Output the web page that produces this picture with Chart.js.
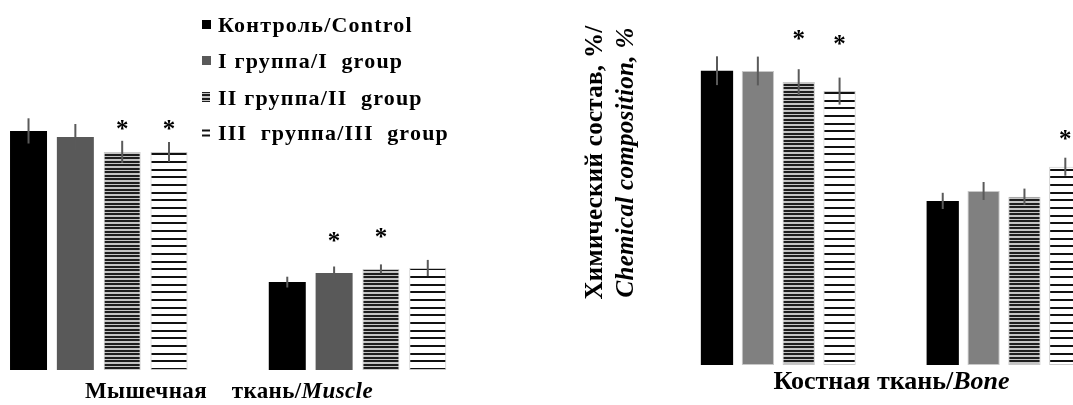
<!DOCTYPE html>
<html><head><meta charset="utf-8">
<script src="https://cdn.jsdelivr.net/npm/chart.js@4/dist/chart.umd.min.js"></script>
<style>
html,body{margin:0;padding:0;background:#fff;overflow:hidden;width:1073px;height:405px;}
#wrap{position:relative;width:1073px;height:405px;overflow:hidden;background:#fff;}
#c1{position:absolute;left:-40px;top:0;}
#c2{position:absolute;left:580px;top:0;}
</style></head><body>
<div id="wrap">
<canvas id="c1" width="540" height="405"></canvas>
<canvas id="c2" width="560" height="405"></canvas>
</div>
<script>
// ---- data ----
const seriesLabels = ['Контроль/Control', 'I группа/I  group', 'II группа/II  group', 'III  группа/III  group'];
const categories = ['1', '2'];

const muscleControl = [79.7, 29.3];
const muscleI       = [77.7, 32.3];
const muscleII      = [72.7, 33.7];
const muscleIII     = [72.7, 34.0];
const muscleErrControl = [4.2, 1.8];
const muscleErrI       = [4.3, 2.2];
const muscleErrII      = [3.7, 1.5];
const muscleErrIII     = [3.3, 2.7];
const muscleStarI   = [null, 44.3];
const muscleStarII  = [81.7, 45.7];
const muscleStarIII = [81.7, null];

const boneControl = [98.1, 54.7];
const boneI       = [98.0, 58.0];
const boneII      = [94.3, 56.1];
const boneIII     = [91.3, 66.1];
const boneErrControl = [4.8, 2.7];
const boneErrI       = [4.8, 3.0];
const boneErrII      = [4.3, 2.7];
const boneErrIII     = [4.5, 3.0];
const boneStarII  = [110, null];
const boneStarIII = [108.3, 76.7];

const muscleTitle = [['Мышечная    ткань/', 'bold'], ['Muscle', 'italic bold']];
const boneTitle = [['Костная ткань/', 'bold'], ['Bone', 'italic bold']];
const yTitle = [['Химический состав, %/', 'bold'], ['Chemical composition, %', 'italic bold']];

// ---- patterns ----
function makePattern(h, darkRows, dark, light) {
  const t = document.createElement('canvas');
  t.width = 4; t.height = h;
  const g = t.getContext('2d');
  g.fillStyle = light; g.fillRect(0, 0, 4, h);
  g.fillStyle = dark;
  darkRows.forEach(r => g.fillRect(0, r, 4, 1));
  return document.createElement('canvas').getContext('2d').createPattern(t, 'repeat');
}
const densePattern = makePattern(7, [0, 1, 3, 4], '#1e1e1e', '#c4c4c4');
const sparsePattern = makePattern(23, [0, 1, 8, 9, 15, 16], '#111111', '#ffffff');

const SERIF = '"Liberation Serif", "Times New Roman", serif';

function drawSegs(ctx, segs, size, cx, base, spacing) {
  ctx.letterSpacing = (spacing || 0) + 'px';
  let total = 0;
  const m = segs.map(([t, st]) => { ctx.font = st + ' ' + size + 'px ' + SERIF; const w = ctx.measureText(t).width; total += w; return w; });
  let x = cx - total / 2;
  ctx.textAlign = 'left';
  segs.forEach(([t, st], i) => { ctx.font = st + ' ' + size + 'px ' + SERIF; ctx.fillText(t, x, base); x += m[i]; });
  ctx.letterSpacing = '0px';
}

const errPlugin = {
  id: 'errs',
  afterDatasetsDraw(chart) {
    const ctx = chart.ctx, ys = chart.scales.y;
    ctx.save();
    chart.data.datasets.forEach((ds, i) => {
      const meta = chart.getDatasetMeta(i);
      meta.data.forEach((bar, j) => {
        const v = ds.data[j], e = ds.errors[j];
        if (v == null || e == null) return;
        ctx.strokeStyle = '#5a5a5a'; ctx.lineWidth = 2;
        ctx.beginPath();
        ctx.moveTo(bar.x, ys.getPixelForValue(v + e));
        ctx.lineTo(bar.x, ys.getPixelForValue(v - e));
        ctx.stroke();
        const s = ds.stars ? ds.stars[j] : null;
        if (s != null) {
          ctx.fillStyle = '#000';
          ctx.font = 'bold 25px ' + SERIF;
          ctx.textAlign = 'center';
          ctx.textBaseline = 'alphabetic';
          const mm = ctx.measureText('*');
          const off = (mm.actualBoundingBoxAscent - mm.actualBoundingBoxDescent) / 2;
          ctx.fillText('*', bar.x, ys.getPixelForValue(s) + off);
        }
      });
    });
    ctx.restore();
  }
};

const muscleDecor = {
  id: 'muscleDecor',
  afterDraw(chart) {
    const ctx = chart.ctx;
    ctx.save();
    ctx.fillStyle = '#000'; ctx.textBaseline = 'alphabetic';
    drawSegs(ctx, muscleTitle, 23, 269, 398, 0.4);
    // legend
    const ox = 40;
    const rows = [24.5, 60.5, 97, 132.5];
    chart.data.datasets.forEach((ds, i) => {
      const cy = rows[i];
      const mx = 202 + ox;
      if (i === 0) { ctx.fillStyle = '#000'; ctx.fillRect(mx, cy - 4.5, 9, 9); }
      else if (i === 1) { ctx.fillStyle = '#595959'; ctx.fillRect(mx, cy - 4.5, 9, 9); }
      else if (i === 2) { ctx.fillStyle = densePattern; ctx.fillRect(mx, cy - 5, 8, 10); }
      else { ctx.fillStyle = '#111'; ctx.fillRect(mx, cy - 3, 8, 2); ctx.fillRect(mx, cy + 2, 8, 2); }
      ctx.fillStyle = '#000';
      ctx.font = 'bold 22px ' + SERIF;
      ctx.letterSpacing = '1.2px';
      ctx.textAlign = 'left';
      ctx.fillText(ds.label, 218 + ox, cy + 7.5);
      ctx.letterSpacing = '0px';
    });
    ctx.restore();
  }
};

const boneDecor = {
  id: 'boneDecor',
  afterDraw(chart) {
    const ctx = chart.ctx;
    ctx.save();
    ctx.fillStyle = '#000'; ctx.textBaseline = 'alphabetic';
    drawSegs(ctx, boneTitle, 26, 311.5, 389, 0);
    // y title
    [[22, 0], [53, 1]].forEach(([bx, k]) => {
      ctx.save();
      ctx.translate(bx, 162.5);
      ctx.rotate(-Math.PI / 2);
      drawSegs(ctx, [yTitle[k]], 25, 0, 0, 0.3);
      ctx.restore();
    });
    ctx.restore();
  }
};

function ds(label, data, errors, stars, bg, border) {
  return { label, data, errors, stars, backgroundColor: bg, borderColor: border || bg, borderWidth: border ? 1 : 0, borderSkipped: false };
}

function baseOptions(pad, ymax) {
  return {
    responsive: false, animation: false, devicePixelRatio: 1,
    layout: { padding: pad },
    datasets: { bar: { categoryPercentage: 0.724, barPercentage: 0.79 } },
    scales: {
      x: { display: false, grid: { display: false } },
      y: { display: false, min: 0, max: ymax, grid: { display: false } }
    },
    plugins: { legend: { display: false }, tooltip: { enabled: false } }
  };
}

new Chart(document.getElementById('c1'), {
  type: 'bar',
  data: {
    labels: categories,
    datasets: [
      ds(seriesLabels[0], muscleControl, muscleErrControl, null, '#000000'),
      ds(seriesLabels[1], muscleI, muscleErrI, muscleStarI, '#595959'),
      ds(seriesLabels[2], muscleII, muscleErrII, muscleStarII, densePattern, '#c8c8c8'),
      ds(seriesLabels[3], muscleIII, muscleErrIII, muscleStarIII, sparsePattern, '#c8c8c8')
    ]
  },
  options: baseOptions({ left: 9.4, right: 13.1, top: 70, bottom: 35 }, 100),
  plugins: [errPlugin, muscleDecor]
});

new Chart(document.getElementById('c2'), {
  type: 'bar',
  data: {
    labels: categories,
    datasets: [
      ds(seriesLabels[0], boneControl, boneErrControl, null, '#000000'),
      ds(seriesLabels[1], boneI, boneErrI, null, '#808080', '#c8c8c8'),
      ds(seriesLabels[2], boneII, boneErrII, boneStarII, densePattern, '#c8c8c8'),
      ds(seriesLabels[3], boneIII, boneErrIII, boneStarIII, sparsePattern, '#c8c8c8')
    ]
  },
  options: baseOptions({ left: 85.4, right: 23.1, top: 35, bottom: 40 }, 110),
  plugins: [errPlugin, boneDecor]
});
</script>
</body></html>
